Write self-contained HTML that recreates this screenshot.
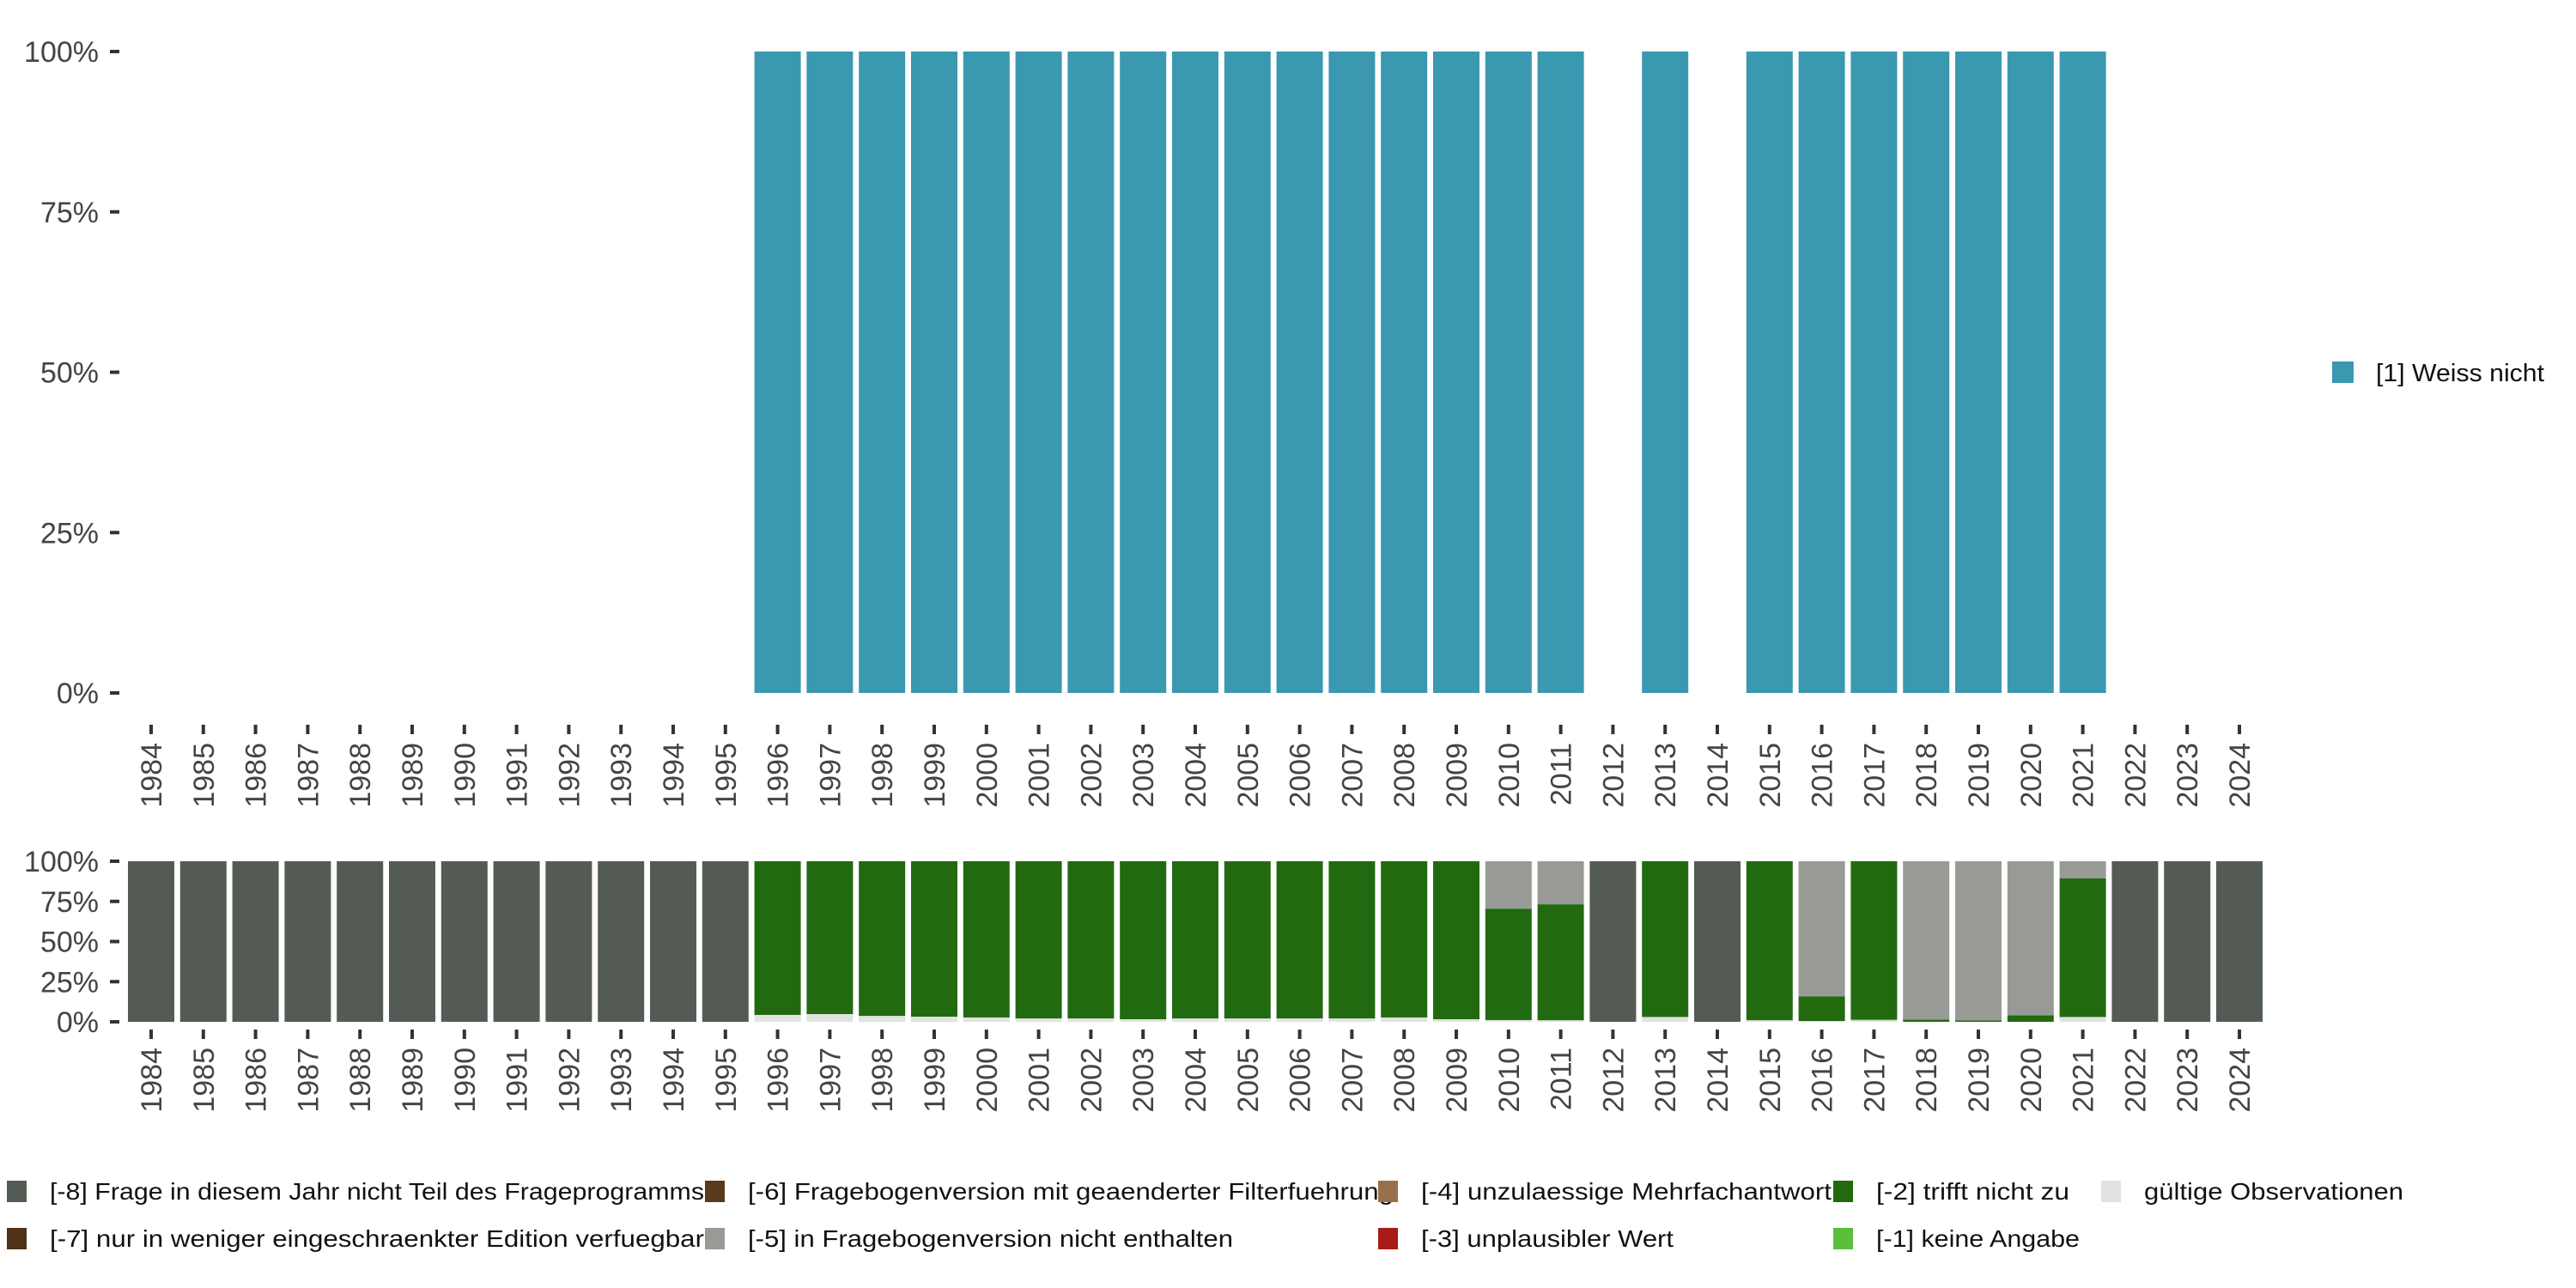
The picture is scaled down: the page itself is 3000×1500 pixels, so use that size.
<!DOCTYPE html>
<html><head><meta charset="utf-8"><style>
html,body{margin:0;padding:0;background:#fff;}
svg{display:block;font-family:"Liberation Sans",sans-serif;}
</style></head><body>
<svg id="chart" width="3000" height="1500" viewBox="0 0 3000 1500" xmlns="http://www.w3.org/2000/svg">
<g id="top"></g>
<g id="bottom"></g>
<g id="legends"></g>
</svg>
<script>
const years = [];
for (let y = 1984; y <= 2024; y++) years.push(y);
const yTicks = [0, 25, 50, 75, 100];
const yTickLabels = ["0%", "25%", "50%", "75%", "100%"];
// top chart: share of "[1] Weiss nicht"
const topWeiss = [0,0,0,0,0,0,0,0,0,0,0,0, 100,100,100,100,100,100,100,100,100,100,100,100,100,100,100,100, 0,100,0, 100,100,100,100,100,100,100, 0,0,0];
// bottom chart stacked series (percent), bottom to top
const valid = [0,0,0,0,0,0,0,0,0,0,0,0, 4.3,4.8,3.7,3.2,2.7,2.1,2.1,1.6,2.1,2.1,2.1,2.1,2.7,1.6,1.1,1.0, 0,3.0,0, 1.0,0.5,1.0,0,0,0,3.0, 0,0,0];
const noAnswer = [0,0,0,0,0,0,0,0,0,0,0,0, 0,0,0,0,0,0,0,0,0,0,0,0,0,0,0,0, 0,0,0, 0,0,0.4,0,0,0,0, 0,0,0];
const notApplies = [0,0,0,0,0,0,0,0,0,0,0,0, 95.7,95.2,96.3,96.8,97.3,97.9,97.9,98.4,97.9,97.9,97.9,97.9,97.3,98.4,69.4,72.2, 0,97.0,0, 99.0,15.4,98.6,1.4,0.9,4.1,86.3, 0,0,0];
const notInVersion = [0,0,0,0,0,0,0,0,0,0,0,0, 0,0,0,0,0,0,0,0,0,0,0,0,0,0,29.5,26.8, 0,0,0, 0,84.1,0,98.6,99.1,95.9,10.7, 0,0,0];
const notInProgram = [100,100,100,100,100,100,100,100,100,100,100,100, 0,0,0,0,0,0,0,0,0,0,0,0,0,0,0,0, 100,0,100, 0,0,0,0,0,0,0, 100,100,100];

const NS = "http://www.w3.org/2000/svg";
function mk(tag, attrs, parent){ const e=document.createElementNS(NS,tag); for(const k in attrs) e.setAttribute(k,attrs[k]); parent.appendChild(e); return e; }
const X0 = 149, PITCH = 60.8, BW = 54;
function xLeft(i){ return X0 + i*PITCH; }
function xCenter(i){ return xLeft(i) + BW/2; }

function axes(g, y0, y1, tickTop){
  const sy = v => y0 - (v/100)*(y0-y1);
  yTicks.forEach((t,k)=>{
    const yy = sy(t);
    const tk = mk('rect',{x:128,y:yy-2,width:11,height:4,fill:'#333'},g);
    
    
    const lb = mk('text',{x:115,y:yy+12,'text-anchor':'end','font-size':34,fill:'#444'},g);
    lb.textContent = yTickLabels[k];
    
    
  });
  years.forEach((yr,i)=>{
    const cx = xCenter(i);
    const tk = mk('rect',{x:cx-2,y:tickTop,width:4,height:11,fill:'#333'},g);
    
    
    const lb = mk('text',{x:0,y:0,'text-anchor':'end','font-size':34,fill:'#444',transform:`translate(${cx+12},${tickTop+21}) rotate(-90)`},g);
    lb.textContent = yr;
    
    
  });
  return sy;
}

// top
const gt = document.getElementById('top');
const syT = axes(gt, 807, 60, 844);
years.forEach((yr,i)=>{
  if(topWeiss[i] > 0){
    const r = mk('rect',{x:xLeft(i),y:syT(topWeiss[i]),width:BW,height:syT(0)-syT(topWeiss[i]),fill:'#3a98b0'},gt);
    
    
  }
});

// bottom
const gb = document.getElementById('bottom');
const syB = axes(gb, 1190, 1003, 1199);
const series = [
  {d:valid, c:'#e0e3df', n:'valid'},
  {d:noAnswer, c:'#5bbf3c', n:'no-answer'},
  {d:notApplies, c:'#216a10', n:'not-applies'},
  {d:notInVersion, c:'#989b95', n:'not-in-version'},
  {d:notInProgram, c:'#545b55', n:'not-in-program'}
];
years.forEach((yr,i)=>{
  let acc = 0;
  series.forEach(s=>{
    const v = s.d[i];
    if(v > 0){
      const r = mk('rect',{x:xLeft(i),y:syB(acc+v),width:BW,height:syB(acc)-syB(acc+v),fill:s.c},gb);
      
      
    }
    acc += v;
  });
});

// legends
const gl = document.getElementById('legends');
const lr = mk('rect',{x:2716,y:421,width:25,height:25,fill:'#3a98b0'},gl);


const lt = mk('text',{x:2767,y:444,'font-size':29,fill:'#111',textLength:196,lengthAdjust:'spacingAndGlyphs'},gl);
lt.textContent='[1] Weiss nicht';



const legItems = [
  {x:8, y:1375, c:'#545b55', t:'[-8] Frage in diesem Jahr nicht Teil des Frageprogramms', w:762},
  {x:8, y:1430, c:'#4f3218', t:'[-7] nur in weniger eingeschraenkter Edition verfuegbar', w:762},
  {x:821, y:1375, c:'#5a3a1a', t:'[-6] Fragebogenversion mit geaenderter Filterfuehrung', w:752},
  {x:821, y:1430, c:'#989b95', t:'[-5] in Fragebogenversion nicht enthalten', w:565},
  {x:1605, y:1375, c:'#98704b', t:'[-4] unzulaessige Mehrfachantwort', w:478},
  {x:1605, y:1430, c:'#a81c17', t:'[-3] unplausibler Wert', w:294},
  {x:2135, y:1375, c:'#216a10', t:'[-2] trifft nicht zu', w:225},
  {x:2135, y:1430, c:'#5bbf3c', t:'[-1] keine Angabe', w:237},
  {x:2447, y:1375, c:'#e0e3df', t:'gültige Observationen', w:302}
];
legItems.forEach(it=>{
  const r = mk('rect',{x:it.x,y:it.y,width:23,height:25,fill:it.c},gl);
  
  
  const t = mk('text',{x:it.x+50,y:it.y+22,'font-size':28,fill:'#111',textLength:it.w,lengthAdjust:'spacingAndGlyphs'},gl);
  t.textContent = it.t;
  
  
});
</script>
</body></html>
